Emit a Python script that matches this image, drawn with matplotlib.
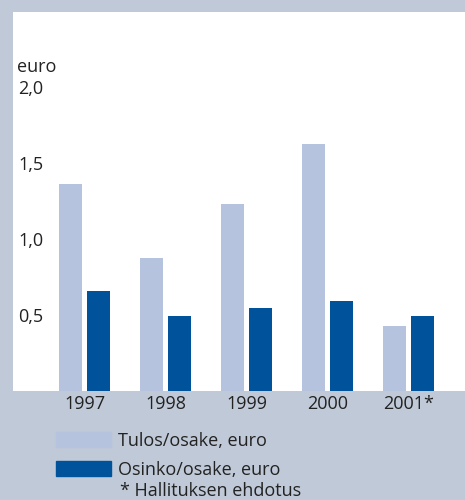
import matplotlib.pyplot as plt
from matplotlib.patches import Patch

years = ["1997", "1998", "1999", "2000", "2001*"]
tulos = [1.36, 0.875, 1.23, 1.625, 0.43]
osinko = [0.66, 0.49, 0.545, 0.59, 0.49]
yticks = [0.5, 1.0, 1.5, 2.0]
ytick_labels = ["0,5", "1,0", "1,5", "2,0"]

light = "#b5c3df"
dark = "#00539b"
bg = "#c0c9d7"
txt = "#222222"
fs = 13

plt.rcParams['font.family'] = ['Open Sans', 'DejaVu Sans']

fig = plt.figure(figsize=(4.65, 5.0), dpi=100, facecolor=bg)
ax = fig.add_axes([13 / 465, 109 / 500, 452 / 465, 379 / 500])
ax.set_facecolor("white")

x = list(range(len(years)))
w = 0.284
off = 0.173
ax.bar([i - off for i in x], tulos, width=w, color=light)
ax.bar([i + off for i in x], osinko, width=w, color=dark)

ax.set_xlim(-0.883, 4.70)
ax.set_ylim(0, 2.49)
for s in ax.spines.values():
    s.set_visible(False)

ax.set_xticks(x)
ax.set_xticklabels(years, fontsize=fs, color=txt)
ax.tick_params(axis='x', length=0, pad=3)

ax.set_yticks(yticks)
ax.set_yticklabels(ytick_labels, fontsize=fs, color=txt, ha='left')
ax.tick_params(axis='y', length=0, pad=-4)

ax.text(4 / 452, 2.13, "euro", transform=ax.get_yaxis_transform(),
        fontsize=fs, color=txt, ha='left', va='center')

handles = [Patch(color=light, label="Tulos/osake, euro"),
           Patch(color=dark, label="Osinko/osake, euro")]
leg = fig.legend(handles=handles, loc='upper left',
                 bbox_to_anchor=(56 / 465, 1 - 432 / 500),
                 bbox_transform=fig.transFigure, frameon=False,
                 borderpad=0, borderaxespad=0, fontsize=fs,
                 handlelength=3.05, handleheight=0.9,
                 handletextpad=0.4, labelspacing=0.62)
for t in leg.get_texts():
    t.set_color(txt)

fig.text(120 / 465, 1 - 491 / 500, "* Hallituksen ehdotus",
         fontsize=fs, color=txt, ha='left', va='center')

fig.savefig("out.png", dpi=100, facecolor=bg)
